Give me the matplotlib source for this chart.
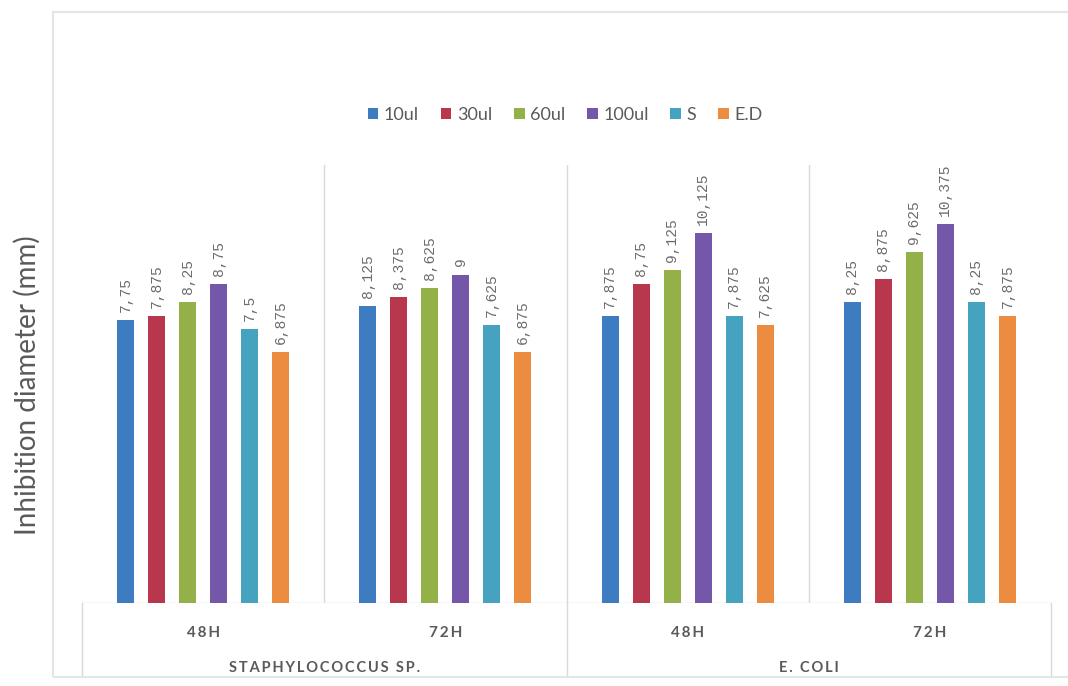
import matplotlib.pyplot as plt
import matplotlib.patches as patches
import numpy as np

# Inhibition diameters (mm) per concentration, grouped by strain and incubation time
species = ["STAPHYLOCOCCUS SP.", "E. COLI"]
times = ["48H", "72H", "48H", "72H"]
series = ["10ul", "30ul", "60ul", "100ul", "S", "E.D"]

v_10ul = [7.75, 8.125, 7.875, 8.25]
v_30ul = [7.875, 8.375, 8.75, 8.875]
v_60ul = [8.25, 8.625, 9.125, 9.625]
v_100ul = [8.75, 9, 10.125, 10.375]
v_s = [7.5, 7.625, 7.875, 8.25]
v_ed = [6.875, 6.875, 7.625, 7.875]

colors = ["#3E7CC2", "#B8374D", "#93B148", "#7457A8", "#46A3C0", "#EC8C40"]
values = [v_10ul, v_30ul, v_60ul, v_100ul, v_s, v_ed]

TEXT_GREY = "#5a5a5a"
LINE_GREY = "#d9d9d9"


def spaced(s):
    # wide tracking for the category captions
    return "\u2009".join(s)


def fmt(v):
    return f"{v:g}".replace(".", ",")


fig = plt.figure(figsize=(10.68, 6.86), dpi=100)
fig.patch.set_facecolor("white")

# outer chart frame
fig.add_artist(patches.Rectangle((53 / 1068, 1 - 677 / 686), 1.2, 665 / 686,
                                 transform=fig.transFigure, fill=False,
                                 edgecolor="#e4e6e4", linewidth=1.5))

ax = fig.add_axes([82 / 1068, 83 / 686, 969 / 1068, 438 / 686])
ax.set_xlim(0, 4)
ax.set_ylim(0, 12)
for s in ax.spines.values():
    s.set_visible(False)
ax.set_xticks([])
ax.set_yticks([])

step = 0.128
width = 0.07
x = np.arange(len(times)) + 0.5
for k, (name, vals, col) in enumerate(zip(series, values, colors)):
    pos = x + (k - 2.5) * step
    ax.bar(pos, vals, width=width, color=col, label=name, zorder=3)
    for px, v in zip(pos, vals):
        ax.text(px, v + 0.22, fmt(v), rotation=90, ha="center", va="bottom",
                fontsize=10.5, color="#6b6b6b", family="Liberation Mono")

# group separators and baseline
for gx in [1, 2, 3]:
    ax.plot([gx, gx], [0, 12], color=LINE_GREY, lw=1, zorder=1)
ax.plot([0, 4], [0, 0], color=LINE_GREY, lw=1, zorder=2)

# category axis boxes below the plot
xt = ax.get_xaxis_transform()
for gx in [0, 2, 4]:
    ax.plot([gx, gx], [0, -0.169], color=LINE_GREY, lw=1, transform=xt, clip_on=False)

for cx, t in zip(x, times):
    ax.text(cx, -0.068, spaced(t), transform=xt, ha="center", va="center",
            fontsize=11, color=TEXT_GREY, family="Lato", fontweight="bold")
for cx, sp in zip([1, 3], species):
    ax.text(cx, -0.148, spaced(sp), transform=xt, ha="center", va="center",
            fontsize=10.5, color=TEXT_GREY, family="Lato", fontweight="bold")

fig.text(27 / 1068, 1 - 385 / 686, "Inhibition diameter (mm)", rotation=90,
         ha="center", va="center", fontsize=20, color=TEXT_GREY, family="Lato")

ax.legend(loc="center", bbox_to_anchor=(565 / 1068, 1 - 115 / 686),
          bbox_transform=fig.transFigure, ncol=6, frameon=False,
          handlelength=0.6, handleheight=0.6, handletextpad=0.3, columnspacing=1.2,
          prop={"family": "Lato", "size": 13}, labelcolor=TEXT_GREY)

fig.savefig("out.png", dpi=100, facecolor="white")
